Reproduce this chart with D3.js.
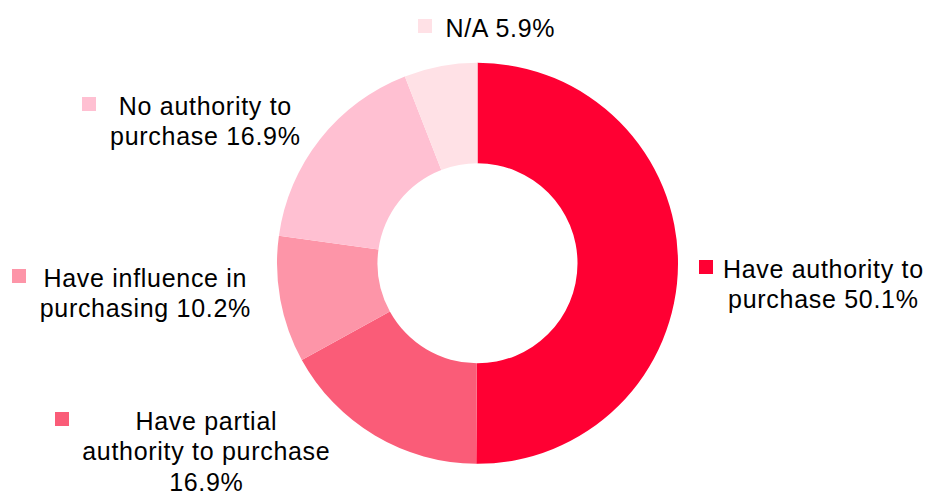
<!DOCTYPE html>
<html>
<head>
<meta charset="utf-8">
<script src="https://cdn.jsdelivr.net/npm/d3@7"></script>
<style>
  html, body { margin: 0; padding: 0; background: #fff; }
  svg { display: block; }
  text { font-family: "Liberation Sans", Arial, sans-serif; fill: #000; }
</style>
</head>
<body>
<svg id="chart" width="928" height="493"></svg>
<script>
// ---- data ----
const categories = [
  "Have authority to purchase",
  "Have partial authority to purchase",
  "Have influence in purchasing",
  "No authority to purchase",
  "N/A"
];
const values = [50.1, 16.9, 10.2, 16.9, 5.9];
const labelLines = [
  ["Have authority to", "purchase 50.1%"],
  ["Have partial", "authority to purchase", "16.9%"],
  ["Have influence in", "purchasing 10.2%"],
  ["No authority to", "purchase 16.9%"],
  ["N/A 5.9%"]
];
const colors = ["#FF0033", "#FA5C78", "#FD95A8", "#FFC0D2", "#FFE1E6"];

// ---- layout (label placement: marker left/top, text centre) ----
const labelLayout = [
  { mx: 699, my: 260, tx: 823 },
  { mx: 55,  my: 412, tx: 206 },
  { mx: 12,  my: 269, tx: 145 },
  { mx: 82,  my: 97,  tx: 205 },
  { mx: 418, my: 19,  tx: 500 }
];

const cx = 477.5, cy = 263.3, rOuter = 200.5, rInner = 100;
const fontSize = 25, lineH = 30.8, markerSize = 14, letterSp = 0.7;

const svg = d3.select("#chart");
const data = categories.map((c, i) => ({ name: c, value: values[i], i }));

const pie = d3.pie().value(d => d.value).sort(null).startAngle(0).endAngle(2 * Math.PI);
const arc = d3.arc().innerRadius(rInner).outerRadius(rOuter);
const color = d3.scaleOrdinal().domain(categories).range(colors);

const g = svg.append("g").attr("transform", `translate(${cx},${cy})`);
g.selectAll("path")
  .data(pie(data))
  .join("path")
  .attr("d", arc)
  .attr("fill", d => color(d.data.name));

// labels
const lg = svg.append("g");
data.forEach((d, i) => {
  const L = labelLayout[i];
  lg.append("rect")
    .attr("x", L.mx).attr("y", L.my)
    .attr("width", markerSize).attr("height", markerSize)
    .attr("fill", color(d.name));
  const t = lg.append("text")
    .attr("text-anchor", "middle")
    .attr("font-size", fontSize)
    .attr("letter-spacing", letterSp);
  labelLines[i].forEach((line, k) => {
    t.append("tspan")
      .attr("x", L.tx + letterSp / 2)
      .attr("y", L.my + 17.5 + k * lineH)
      .text(line);
  });
});
</script>
</body>
</html>
